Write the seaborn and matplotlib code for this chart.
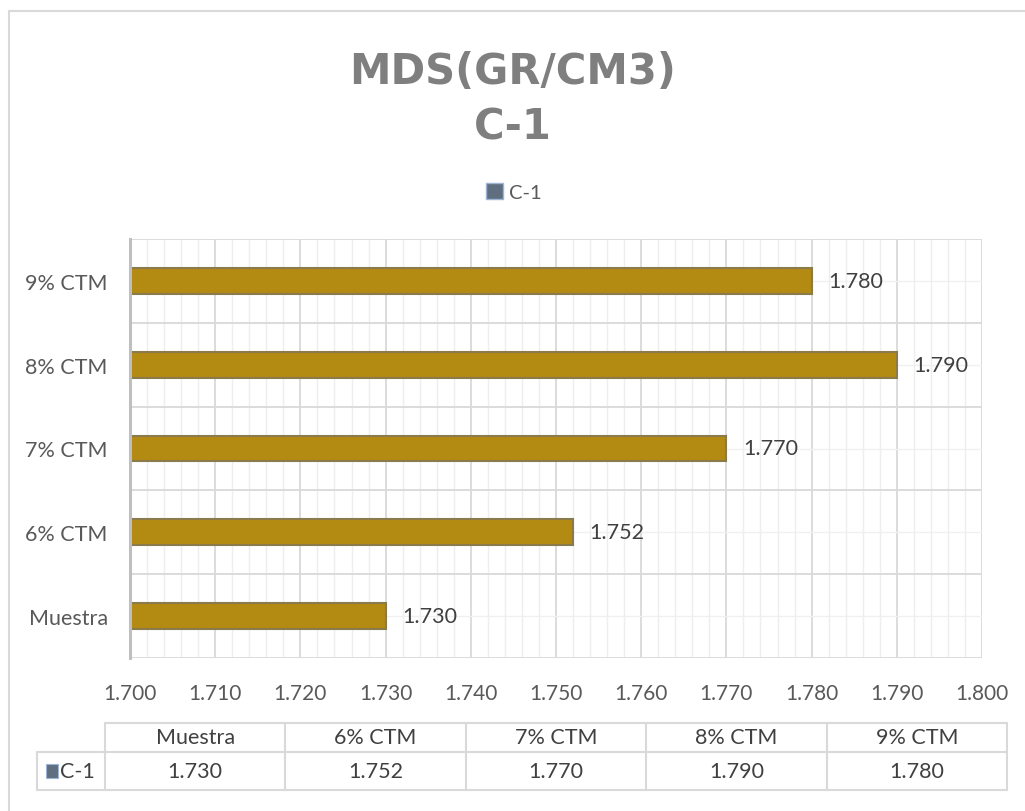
import matplotlib
matplotlib.use("Agg")
import matplotlib.pyplot as plt
import seaborn as sns
import pandas as pd
from matplotlib.ticker import MultipleLocator
from matplotlib.patches import Patch
from matplotlib.lines import Line2D

# ---- data ----
categories = ["Muestra", "6% CTM", "7% CTM", "8% CTM", "9% CTM"]
values = [1.730, 1.752, 1.770, 1.790, 1.780]
series_name = "C-1"
x_ticks = [1.700, 1.710, 1.720, 1.730, 1.740, 1.750, 1.760, 1.770, 1.780, 1.790, 1.800]
title_line1 = "MDS(GR/CM3)"
title_line2 = "C-1"

sns.set_theme(style="white")
plt.rcParams["font.family"] = ["Lato", "DejaVu Sans"]

W, H = 1025, 812
fig = plt.figure(figsize=(W / 100, H / 100), dpi=100)

def fx(px):
    return px / W

def fy(py):
    return 1 - py / H

# outer chart border (top/left visible)
fig.add_artist(Line2D([fx(9), fx(9)], [fy(12), 0], transform=fig.transFigure, color="#d9d9d9", lw=1.5))
fig.add_artist(Line2D([fx(9), 1], [fy(12), fy(12)], transform=fig.transFigure, color="#d9d9d9", lw=1.5))

# main axes
ax_l, ax_r, ax_t, ax_b = 130, 982, 240, 659
ax = fig.add_axes([fx(ax_l), fy(ax_b), fx(ax_r - ax_l), (ax_b - ax_t) / H])

df = pd.DataFrame({"cat": categories, "val": values})
order = categories[::-1]
sns.barplot(data=df, x="val", y="cat", order=order, orient="h", ax=ax,
            color="#b38a12", edgecolor="#8a7b4c", linewidth=1.5, width=0.31,
            saturation=1)

ax.set_xlim(x_ticks[0], x_ticks[-1])
ax.set_ylim(len(categories) - 0.5, -0.5)
ax.set_xticks(x_ticks)
ax.set_xticklabels([f"{t:.3f}" for t in x_ticks])
ax.xaxis.set_minor_locator(MultipleLocator(0.002))
ax.set_yticks(range(len(order)))
ax.set_yticklabels(order)
ax.set_yticks([i - 0.5 for i in range(len(order) + 1)], minor=True)

ax.set_axisbelow(True)
ax.grid(which="major", axis="x", color="#d9d9d9", lw=1.3)
ax.grid(which="minor", axis="x", color="#eeeeee", lw=1.0)
ax.grid(which="minor", axis="y", color="#d9d9d9", lw=1.3)
ax.grid(which="major", axis="y", color="#f0f0f0", lw=1.0)

for s in ["top", "right", "bottom"]:
    ax.spines[s].set_visible(False)
ax.spines["left"].set_color("#bfbfbf")
ax.spines["left"].set_linewidth(2.2)

ax.tick_params(axis="both", which="both", length=0)
ax.tick_params(axis="x", pad=18, labelsize=15, labelcolor="#595959")
ax.tick_params(axis="y", pad=16, labelsize=15.5, labelcolor="#595959")
ax.set_xlabel("")
ax.set_ylabel("")

for c in ax.containers:
    ax.bar_label(c, fmt="%.3f", padding=12, fontsize=15.5, color="#404040")

# title
fig.text(0.5, fy(72), title_line1, ha="center", va="center", fontsize=30,
         fontweight="bold", color="#7f7f7f", family=["DejaVu Sans"])
fig.text(0.5, fy(128), title_line2, ha="center", va="center", fontsize=30,
         fontweight="bold", color="#7f7f7f", family=["DejaVu Sans"])

# legend
fig.legend(handles=[Patch(facecolor="#5f6f80", edgecolor="#9db4d6")], labels=[series_name],
           loc="center", bbox_to_anchor=(fx(514), fy(193)), frameon=False,
           handlelength=0.85, handleheight=0.85, handletextpad=0.3, fontsize=14.5,
           labelcolor="#595959")

# data table
t_l, t_r, t_top, t_bot = 37, 1007, 724, 791
axt = fig.add_axes([fx(t_l), fy(t_bot), fx(t_r - t_l), (t_bot - t_top) / H])
col_w = (t_r - 105) / len(categories)
lab_w = (105 - t_l) / col_w
axt.set_xlim(-lab_w, len(categories))
axt.set_ylim(0, t_bot - t_top)
axt.axis("off")
sep = t_bot - 753
hdr_top = t_bot - t_top
lc = "#d9d9d9"
lw = 1.5
# horizontal lines
axt.plot([0, len(categories)], [hdr_top, hdr_top], color=lc, lw=lw, clip_on=False)
axt.plot([-lab_w, len(categories)], [sep, sep], color=lc, lw=lw, clip_on=False)
axt.plot([-lab_w, len(categories)], [0, 0], color=lc, lw=lw, clip_on=False)
# vertical lines
axt.plot([-lab_w, -lab_w], [0, sep], color=lc, lw=lw, clip_on=False)
for i in range(len(categories) + 1):
    axt.plot([i, i], [0, hdr_top], color=lc, lw=lw, clip_on=False)
for i, (c, v) in enumerate(zip(categories, values)):
    axt.text(i + 0.5, (hdr_top + sep) / 2, c, ha="center", va="center", fontsize=15.5, color="#404040")
    axt.text(i + 0.5, sep / 2, f"{v:.3f}", ha="center", va="center", fontsize=15.5, color="#404040")
# row label with legend key
axt.add_patch(plt.Rectangle((-lab_w + 0.05, sep / 2 - 7), 0.065, 14, facecolor="#5f6f80",
                            edgecolor="#9db4d6", lw=0.8, clip_on=False))
axt.text(-lab_w + 0.125, sep / 2, series_name, ha="left", va="center", fontsize=15.5, color="#404040")

fig.savefig("out.png", dpi=100)
